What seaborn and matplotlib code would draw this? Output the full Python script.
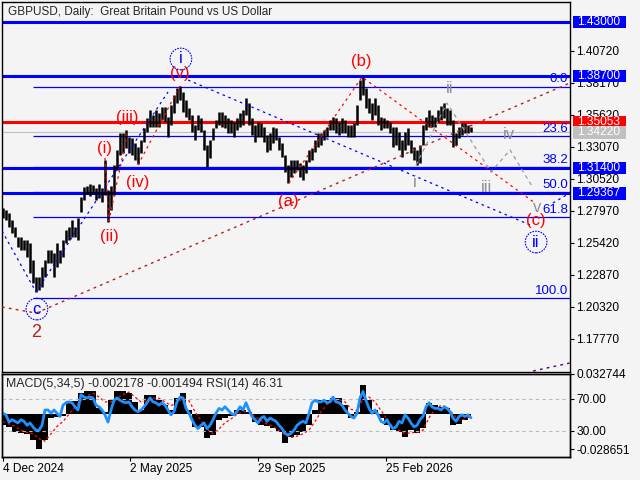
import numpy as np
import seaborn as sns
import matplotlib.pyplot as plt
import matplotlib.transforms as mtransforms
from matplotlib.patches import Rectangle

# ---- data (one sample ~ 2.5 trading days) ----
high = [
    1.2820, 1.2804, 1.2780, 1.2725, 1.2669, 1.2589, 1.2589, 1.2565, 1.2565, 1.2541,
    1.2406, 1.2270, 1.2270, 1.2350, 1.2406, 1.2485, 1.2485, 1.2461, 1.2541, 1.2485,
    1.2565, 1.2645, 1.2669, 1.2725, 1.2669, 1.2741, 1.2908, 1.2988, 1.2996, 1.3012,
    1.3004, 1.2980, 1.3012, 1.2980, 1.3203, 1.2964, 1.2996, 1.3163, 1.3283, 1.3418,
    1.3418, 1.3442, 1.3386, 1.3378, 1.3338, 1.3306, 1.3362, 1.3458, 1.3538, 1.3601,
    1.3561, 1.3601, 1.3577, 1.3625, 1.3625, 1.3545, 1.3641, 1.3721, 1.3777, 1.3793,
    1.3745, 1.3681, 1.3617, 1.3561, 1.3482, 1.3561, 1.3538, 1.3442, 1.3322, 1.3362,
    1.3458, 1.3522, 1.3585, 1.3585, 1.3561, 1.3538, 1.3522, 1.3506, 1.3538, 1.3577,
    1.3601, 1.3697, 1.3657, 1.3538, 1.3482, 1.3506, 1.3498, 1.3466, 1.3402, 1.3418,
    1.3466, 1.3458, 1.3386, 1.3338, 1.3243, 1.3163, 1.3203, 1.3203, 1.3203, 1.3179,
    1.3163, 1.3203, 1.3283, 1.3298, 1.3362, 1.3418, 1.3418, 1.3442, 1.3466, 1.3522,
    1.3545, 1.3538, 1.3506, 1.3538, 1.3522, 1.3482, 1.3482, 1.3498, 1.3641, 1.3840,
    1.3864, 1.3777, 1.3697, 1.3657, 1.3697, 1.3641, 1.3545, 1.3538, 1.3522, 1.3506,
    1.3466, 1.3466, 1.3426, 1.3362, 1.3426, 1.3458, 1.3362, 1.3306, 1.3283, 1.3322,
    1.3482, 1.3545, 1.3601, 1.3561, 1.3545, 1.3601, 1.3633, 1.3657, 1.3617, 1.3601,
    1.3522, 1.3418, 1.3466, 1.3498, 1.3498, 1.3482, 1.3466]
low = [
    1.2741, 1.2725, 1.2669, 1.2621, 1.2589, 1.2509, 1.2485, 1.2485, 1.2430, 1.2302,
    1.2222, 1.2151, 1.2167, 1.2191, 1.2270, 1.2382, 1.2382, 1.2270, 1.2350, 1.2382,
    1.2430, 1.2541, 1.2565, 1.2589, 1.2589, 1.2565, 1.2788, 1.2884, 1.2932, 1.2916,
    1.2932, 1.2884, 1.2900, 1.2868, 1.2924, 1.2709, 1.2804, 1.2924, 1.3123, 1.3243,
    1.3259, 1.3299, 1.3259, 1.3243, 1.3203, 1.3171, 1.3259, 1.3346, 1.3426, 1.3466,
    1.3466, 1.3466, 1.3466, 1.3522, 1.3506, 1.3386, 1.3482, 1.3577, 1.3657, 1.3681,
    1.3585, 1.3545, 1.3522, 1.3426, 1.3362, 1.3442, 1.3426, 1.3283, 1.3147, 1.3219,
    1.3362, 1.3458, 1.3482, 1.3466, 1.3458, 1.3418, 1.3418, 1.3386, 1.3442, 1.3466,
    1.3482, 1.3561, 1.3482, 1.3402, 1.3346, 1.3386, 1.3386, 1.3346, 1.3267, 1.3283,
    1.3338, 1.3362, 1.3283, 1.3227, 1.3107, 1.3020, 1.3067, 1.3099, 1.3123, 1.3067,
    1.3043, 1.3099, 1.3187, 1.3203, 1.3267, 1.3306, 1.3322, 1.3362, 1.3386, 1.3442,
    1.3442, 1.3418, 1.3402, 1.3418, 1.3418, 1.3386, 1.3386, 1.3386, 1.3482, 1.3681,
    1.3721, 1.3617, 1.3577, 1.3522, 1.3561, 1.3482, 1.3442, 1.3458, 1.3458, 1.3418,
    1.3306, 1.3322, 1.3283, 1.3227, 1.3283, 1.3322, 1.3259, 1.3203, 1.3163, 1.3179,
    1.3322, 1.3442, 1.3466, 1.3466, 1.3466, 1.3506, 1.3522, 1.3538, 1.3482, 1.3482,
    1.3306, 1.3322, 1.3378, 1.3402, 1.3418, 1.3418, 1.3422]

# MACD histogram + signal, every second sample
macd_hist = [
    -0.0090, -0.0106, -0.0147, -0.0155, -0.0163, -0.0212, -0.0285, -0.0212, -0.0033, -0.0024,
    -0.0016, 0.0106, 0.0106, 0.0171, 0.0187, 0.0187, 0.0049, 0.0016, 0.0114, 0.0187,
    0.0187, 0.0171, 0.0098, 0.0033, 0.0155, 0.0155, 0.0114, 0.0073, 0.0033, 0.0130,
    0.0171, 0.0033, -0.0106, -0.0106, -0.0196, -0.0171, -0.0049, -0.0033, -0.0016, 0.0033,
    0.0033, 0.0016, -0.0065, -0.0090, -0.0098, -0.0114, -0.0147, -0.0236, -0.0187, -0.0171,
    -0.0147, -0.0090, 0.0033, 0.0114, 0.0114, 0.0130, 0.0130, 0.0073, -0.0033, 0.0016,
    0.0236, 0.0114, 0.0033, -0.0033, -0.0090, -0.0130, -0.0147, -0.0187, -0.0130, -0.0155,
    -0.0114, 0.0090, 0.0073, 0.0057, 0.0049, -0.0090, -0.0081, -0.0049, -0.0022]
macd_signal = [
    -0.006, -0.008, -0.010, -0.013, -0.015, -0.016, -0.020, -0.022, -0.016, -0.010,
    -0.006, 0.000, 0.006, 0.011, 0.015, 0.017, 0.014, 0.010, 0.010, 0.013,
    0.016, 0.018, 0.014, 0.010, 0.011, 0.013, 0.013, 0.010, 0.007, 0.009,
    0.013, 0.011, 0.002, -0.005, -0.012, -0.016, -0.012, -0.007, -0.004, 0.000,
    0.002, 0.002, -0.002, -0.005, -0.008, -0.010, -0.013, -0.017, -0.019, -0.018,
    -0.016, -0.013, -0.006, 0.002, 0.008, 0.011, 0.012, 0.010, 0.004, 0.003,
    0.012, 0.014, 0.010, 0.003, -0.004, -0.010, -0.013, -0.016, -0.015, -0.015,
    -0.013, -0.003, 0.004, 0.007, 0.006, 0.000, -0.005, -0.004, -0.0015]

rsi = [
    52, 50, 41, 44, 42, 40, 44, 42, 37, 40,
    35, 31, 31, 37, 56, 56, 52, 56, 52, 48,
    62, 65, 66, 65, 60, 56, 75, 72, 71, 72,
    71, 62, 60, 56, 50, 41, 56, 68, 71, 68,
    66, 65, 66, 60, 56, 54, 56, 60, 65, 71,
    66, 65, 62, 65, 62, 56, 50, 54, 66, 72,
    71, 58, 52, 44, 37, 33, 37, 40, 33, 37,
    44, 52, 58, 56, 60, 56, 52, 50, 54, 60,
    56, 65, 56, 48, 44, 40, 46, 48, 42, 46,
    44, 42, 37, 33, 27, 25, 27, 31, 37, 40,
    42, 40, 52, 65, 68, 66, 66, 68, 65, 66,
    72, 66, 65, 62, 56, 52, 48, 46, 52, 71,
    79, 68, 58, 52, 56, 50, 42, 40, 44, 37,
    33, 35, 42, 40, 50, 46, 40, 35, 37, 44,
    48, 60, 65, 60, 58, 58, 56, 60, 58, 54,
    46, 42, 48, 50, 48, 50, 46.31]

# levels
blue_levels = [1.43000, 1.38700, 1.31400, 1.29367]
red_level = 1.35053
bid_level = 1.34220
fib_names = ['0.0', '23.6', '38.2', '50.0', '61.8', '100.0']
fib_prices = [1.3788, 1.3390, 1.3143, 1.2944, 1.2745, 1.2100]
price_ticks = [1.40720, 1.38170, 1.35620, 1.33070, 1.30520,
               1.27970, 1.25420, 1.22870, 1.20320, 1.17770]

# wave paths (sample index, price)
trend_x, trend_y = [-0.33, 11, 189], [1.2031, 1.1983, 1.3817]
purple_x, purple_y = [176.7, 189], [1.1521, 1.1585]
blue_paths = [([-0.33, 11], [1.2637, 1.2151]),
              ([11, 55], [1.2151, 1.3745]),
              ([61.7, 175.7], [1.3840, 1.2685]),
              ([183.3, 189], [1.2860, 1.2940])]
red_paths = [([34, 35.3, 41.7], [1.3219, 1.2717, 1.3442]),
             ([45, 59], [1.3163, 1.3793]),
             ([95.3, 119.7, 177.3], [1.3020, 1.3864, 1.2860])]
gray_x = [137.7, 148, 162.7, 169, 176.7]
gray_y = [1.3163, 1.3657, 1.3107, 1.3283, 1.2980]

date_pos = [0, 42.3, 85, 127.7]
date_labels = ['4 Dec 2024', '2 May 2025', '29 Sep 2025', '25 Feb 2026']

BG = '#f4f4f4'
BLUE = '#0000ff'
sns.set_theme(style='white')
plt.rcParams['font.family'] = ['Liberation Sans', 'DejaVu Sans']

fig = plt.figure(figsize=(6.4, 4.8), dpi=100, facecolor=BG)
ax = fig.add_axes([2 / 640, 108 / 480, 568 / 640, 370 / 480], facecolor=BG)
axm = fig.add_axes([2 / 640, 23.5 / 480, 568 / 640, 82.5 / 480], facecolor=BG)
axr = axm.twinx()

x = np.arange(len(high))
xlim = (-1 / 3, 189)

# ---- main price panel ----
for lv in blue_levels:
    ax.axhline(lv, color=BLUE, lw=2.2, zorder=2)
ax.axhline(red_level, color='#ff0000', lw=2.2, zorder=2)
ax.axhline(bid_level, color='#c0c0c0', lw=0.8, zorder=1)
ax.hlines(fib_prices, 10, xlim[1], color=BLUE, lw=0.9, zorder=2)
for name, p in zip(fib_names, fib_prices):
    ax.text(188.4, p + 0.0010, name, color=BLUE, fontsize=9.5, ha='right', va='bottom')

ax.vlines(x, low, high, color='black', lw=1.8, zorder=3)

ax.plot(trend_x, trend_y, color='#b22222', lw=1, ls=(0, (2, 3)), zorder=3)
ax.plot(purple_x, purple_y, color='#4b0082', lw=1, ls=(0, (2, 3)), zorder=3)
for px_, py_ in blue_paths:
    ax.plot(px_, py_, color=BLUE, lw=0.9, ls=(0, (2, 3)), zorder=3)
for px_, py_ in red_paths:
    ax.plot(px_, py_, color='#ff0000', lw=0.9, ls=(0, (2, 3)), zorder=3)
ax.plot(gray_x, gray_y, color='#9a9a9a', lw=0.9, ls=(0, (3, 3)), zorder=3)

# wave labels
red_labels = [('(i)', 33.7, 1.3298), ('(ii)', 35.3, 1.2589), ('(iii)', 41.3, 1.3545),
              ('(iv)', 45, 1.3020), ('(v)', 59, 1.3896), ('(a)', 95, 1.2868),
              ('(b)', 119.3, 1.3984), ('(c)', 177.7, 1.2717)]
for t, tx, ty in red_labels:
    ax.text(tx, ty, t, color='#ff0000', fontsize=12, ha='center', va='center', zorder=5)
for t, tx, ty in [('i', 59.3, 1.4008), ('ii', 177.7, 1.2549), ('c', 11.3, 1.2015)]:
    ax.text(tx, ty, t, color=BLUE, fontsize=12, ha='center', va='center', zorder=5,
            bbox=dict(boxstyle='circle,pad=0.2', fc='none', ec=BLUE, lw=0.8, ls=(0, (1.5, 1))))
for t, tx, ty in [('i', 137.3, 1.3027), ('ii', 149, 1.3769), ('iii', 161.3, 1.2980),
                  ('iv', 168.7, 1.3402), ('v', 178, 1.2828)]:
    ax.text(tx, ty, t, color='#8a8f98', fontsize=12, ha='center', va='center', zorder=5)
ax.text(11, 1.1824, '2', color='#b22222', fontsize=13, ha='center', va='center')

ax.text(0.0106, 0.973, 'GBPUSD, Daily:  Great Britain Pound vs US Dollar',
        transform=ax.transAxes, fontsize=8.5, va='center', ha='left')

ax.set_xlim(xlim)
ax.set_ylim(1.1513, 1.4462)
ax.set_xticks([])
ax.yaxis.tick_right()
ax.set_yticks(price_ticks)
ax.set_yticklabels([f'{t:.5f}' for t in price_ticks])
ax.tick_params(axis='y', right=True, left=False, direction='out', length=3,
               width=0.8, pad=1.5, labelsize=8.6, colors='black')

# coloured price boxes on the scale
trans = mtransforms.blended_transform_factory(ax.transAxes, ax.transData)
boxes = [(lv, BLUE) for lv in blue_levels] + [(red_level, '#ff0000'), (bid_level, '#c0c0c0')]
for lv, col in boxes:
    ax.add_patch(Rectangle((1.0053, lv - 0.0049), 0.0933, 0.0098, transform=trans,
                           facecolor=col, edgecolor='none', clip_on=False, zorder=6))
    ax.text(1.0123, lv, f'{lv:.5f}', transform=trans, color='white', fontsize=8.6,
            ha='left', va='center', zorder=7, clip_on=False)

# ---- MACD / RSI panel ----
hx = x[::2]
axm.fill_between(hx, macd_hist, 0, step='mid', color='black', lw=0)
sns.lineplot(x=hx, y=macd_signal, ax=axm, color='#ff0000', lw=0.9, linestyle=(0, (2, 2)))
axm.set_xlim(xlim)
axm.set_ylim(-0.03452, 0.032744)
axm.yaxis.tick_right()
axm.yaxis.set_label_position('right')
axm.set_yticks([0.032744, -0.028651])
axm.set_yticklabels(['0.032744', '-0.028651'])
axm.set_xticks(date_pos)
axm.set_xticklabels(date_labels)
for lbl in axm.get_xticklabels():
    lbl.set_ha('left')
axm.tick_params(axis='x', bottom=True, direction='out', length=3, width=0.8,
                pad=2, labelsize=8.6, colors='black')
axm.tick_params(axis='y', right=True, left=False, labelright=True, labelleft=False,
                direction='out', length=3, width=0.8, pad=1.5, labelsize=8.6, colors='black')

axr.axhline(70, color='#b8b8b8', lw=0.8, ls=(0, (3, 3)))
axr.axhline(30, color='#b8b8b8', lw=0.8, ls=(0, (3, 3)))
sns.lineplot(x=x, y=rsi, ax=axr, color='#1e90ff', lw=2)
axr.set_xlim(xlim)
axr.set_ylim(-1.6, 100.6)
axr.set_yticks([70, 30])
axr.set_yticklabels(['70.00', '30.00'])
axr.tick_params(axis='y', right=True, direction='out', length=3, width=0.8,
                pad=1.5, labelsize=8.6, colors='black')
axr.text(0.007, 0.879, 'MACD(5,34,5) -0.002178 -0.001494 RSI(14) 46.31',
         transform=axr.transAxes, fontsize=8.9, va='center', ha='left')
for a in (axm, axr):
    a.set_xlabel('')
    a.set_ylabel('')

for a in (ax, axm, axr):
    for s in a.spines.values():
        s.set_color('black')
        s.set_linewidth(1)

fig.savefig('out.png', dpi=100, facecolor=BG)
